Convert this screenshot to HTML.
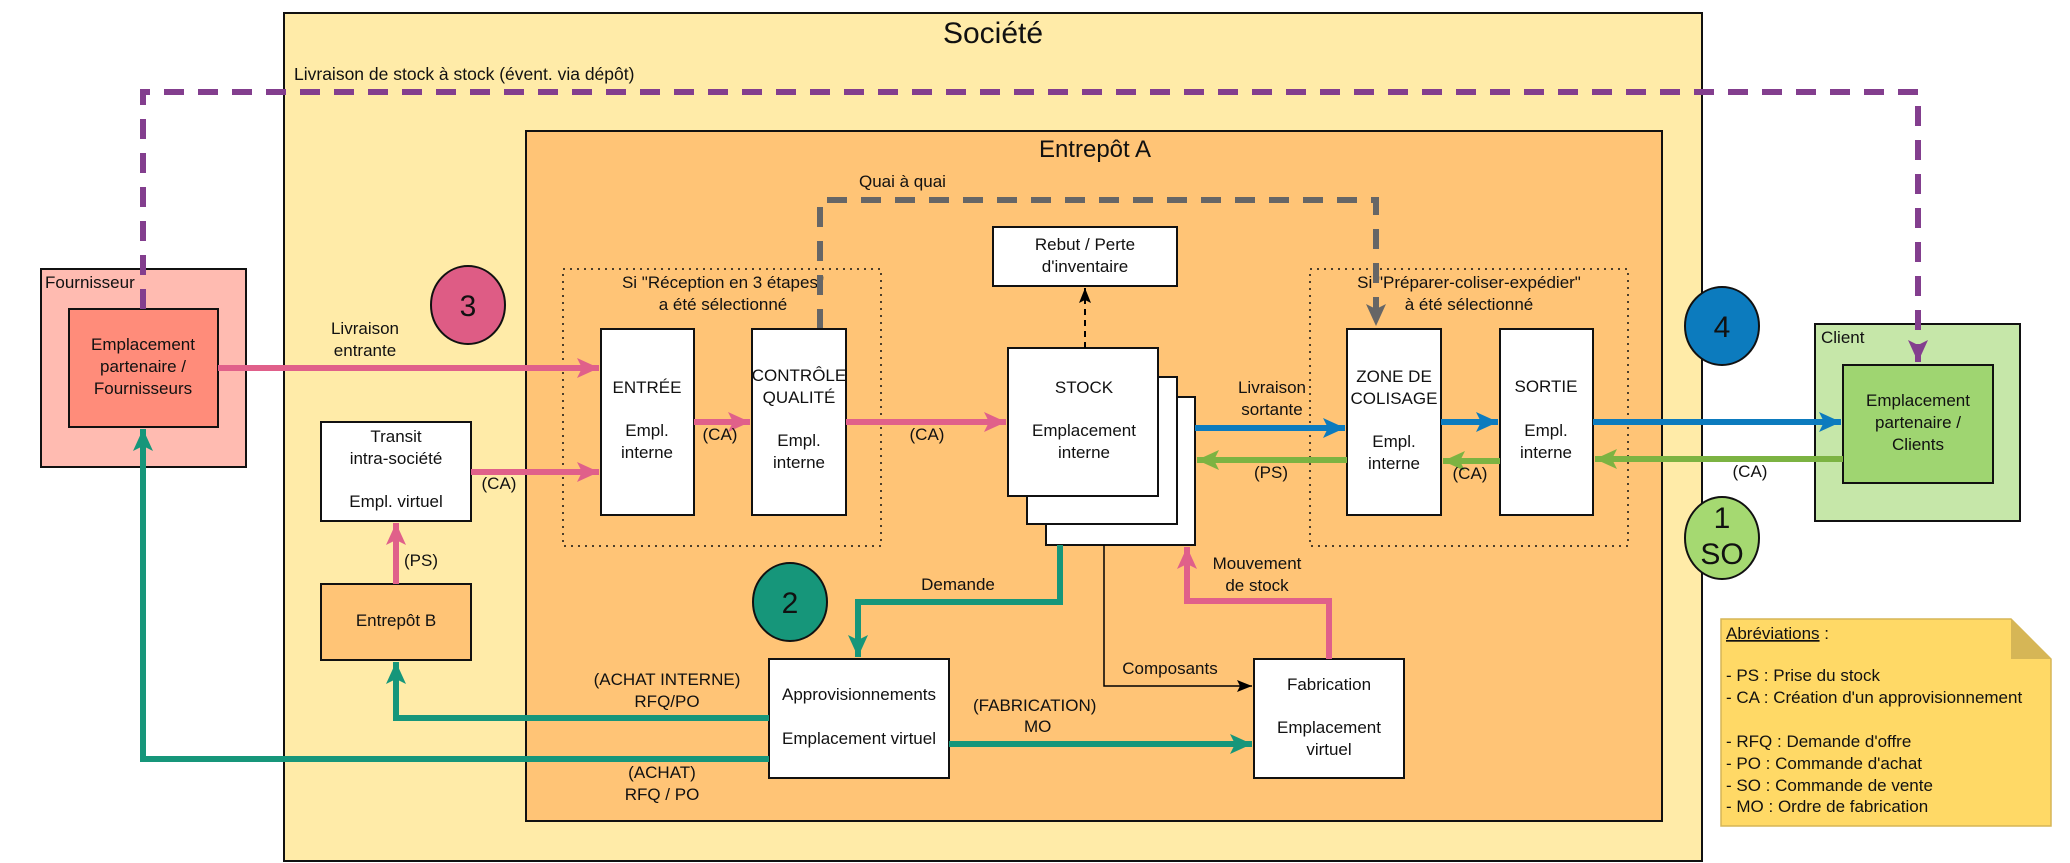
<!DOCTYPE html>
<html><head><meta charset="utf-8"><style>
html,body{margin:0;padding:0;background:#fff;}
svg{display:block;}
text{font-family:"Liberation Sans",sans-serif;fill:#111;}
</style></head><body>
<svg width="2070" height="863" viewBox="0 0 2070 863" xmlns="http://www.w3.org/2000/svg">
<defs>
<marker id="mp" markerUnits="userSpaceOnUse" markerWidth="24" markerHeight="20" refX="22" refY="10" orient="auto"><path d="M0,0 L22,10 L0,20 L5,10 Z" fill="#E0608A"/></marker>
<marker id="mt" markerUnits="userSpaceOnUse" markerWidth="24" markerHeight="20" refX="22" refY="10" orient="auto"><path d="M0,0 L22,10 L0,20 L5,10 Z" fill="#16967A"/></marker>
<marker id="mb" markerUnits="userSpaceOnUse" markerWidth="24" markerHeight="20" refX="22" refY="10" orient="auto"><path d="M0,0 L22,10 L0,20 L5,10 Z" fill="#0C7BBE"/></marker>
<marker id="mg" markerUnits="userSpaceOnUse" markerWidth="24" markerHeight="20" refX="22" refY="10" orient="auto"><path d="M0,0 L22,10 L0,20 L5,10 Z" fill="#7CB342"/></marker>
<marker id="mu" markerUnits="userSpaceOnUse" markerWidth="24" markerHeight="20" refX="22" refY="10" orient="auto"><path d="M0,0 L22,10 L0,20 L5,10 Z" fill="#833E8E"/></marker>
<marker id="my" markerUnits="userSpaceOnUse" markerWidth="24" markerHeight="20" refX="22" refY="10" orient="auto"><path d="M0,0 L22,10 L0,20 L5,10 Z" fill="#666"/></marker>
<marker id="mk" markerUnits="userSpaceOnUse" markerWidth="16" markerHeight="12" refX="15" refY="6" orient="auto"><path d="M0,0 L15,6 L0,12 L3,6 Z" fill="#000"/></marker>
</defs>

<rect x="284" y="13" width="1418" height="848" fill="#FFEBA8" stroke="#111" stroke-width="2"/>
<text x="993" y="43" font-size="30" text-anchor="middle">Société</text>
<text x="294" y="80" font-size="17.5">Livraison de stock à stock (évent. via dépôt)</text>

<rect x="526" y="131" width="1136" height="690" fill="#FFC476" stroke="#111" stroke-width="2"/>
<text x="1095" y="157" font-size="24" text-anchor="middle">Entrepôt A</text>

<rect x="41" y="269" width="205" height="198" fill="#FFBBB1" stroke="#111" stroke-width="2"/>
<text x="45" y="288" font-size="17">Fournisseur</text>
<rect x="69" y="309" width="149" height="118" fill="#FF8C7A" stroke="#111" stroke-width="2"/>
<text font-size="17" text-anchor="middle"><tspan x="143" y="350">Emplacement</tspan><tspan x="143" y="372">partenaire /</tspan><tspan x="143" y="394">Fournisseurs</tspan></text>

<rect x="1815" y="324" width="205" height="197" fill="#C6E7A9" stroke="#111" stroke-width="2"/>
<text x="1821" y="343" font-size="17">Client</text>
<rect x="1843" y="365" width="150" height="118" fill="#9FD571" stroke="#111" stroke-width="2"/>
<text font-size="17" text-anchor="middle"><tspan x="1918" y="406">Emplacement</tspan><tspan x="1918" y="428">partenaire /</tspan><tspan x="1918" y="450">Clients</tspan></text>

<rect x="563" y="269" width="318" height="277" fill="none" stroke="#111" stroke-width="1.5" stroke-dasharray="2,5"/>
<text font-size="17" text-anchor="middle"><tspan x="723" y="288">Si "Réception en 3 étapes"</tspan><tspan x="723" y="310">a été sélectionné</tspan></text>
<rect x="1310" y="269" width="318" height="277" fill="none" stroke="#111" stroke-width="1.5" stroke-dasharray="2,5"/>
<text font-size="17" text-anchor="middle"><tspan x="1469" y="288">Si "Préparer-coliser-expédier"</tspan><tspan x="1469" y="310">à été sélectionné</tspan></text>

<polyline points="820,329 820,200 1376,200 1376,326" fill="none" stroke="#666" stroke-width="6" stroke-dasharray="20,14" marker-end="url(#my)"/>
<text x="859" y="187" font-size="17">Quai à quai</text>

<polyline points="143,309 143,92 1918,92 1918,362" fill="none" stroke="#833E8E" stroke-width="6" stroke-dasharray="20,14" marker-end="url(#mu)"/>

<rect x="601" y="329" width="93" height="186" fill="#fff" stroke="#111" stroke-width="2"/>
<text font-size="17" text-anchor="middle"><tspan x="647" y="393">ENTRÉE</tspan><tspan x="647" y="436">Empl.</tspan><tspan x="647" y="458">interne</tspan></text>
<rect x="752" y="329" width="94" height="186" fill="#fff" stroke="#111" stroke-width="2"/>
<text font-size="17" text-anchor="middle"><tspan x="799" y="381">CONTRÔLE</tspan><tspan x="799" y="403">QUALITÉ</tspan><tspan x="799" y="446">Empl.</tspan><tspan x="799" y="468">interne</tspan></text>

<rect x="1046" y="397" width="149" height="148" fill="#fff" stroke="#111" stroke-width="2"/>
<rect x="1027" y="377" width="150" height="147" fill="#fff" stroke="#111" stroke-width="2"/>
<rect x="1008" y="348" width="150" height="148" fill="#fff" stroke="#111" stroke-width="2"/>
<text font-size="17" text-anchor="middle"><tspan x="1084" y="393">STOCK</tspan><tspan x="1084" y="436">Emplacement</tspan><tspan x="1084" y="458">interne</tspan></text>

<rect x="993" y="227" width="184" height="59" fill="#fff" stroke="#111" stroke-width="2"/>
<text font-size="17" text-anchor="middle"><tspan x="1085" y="250">Rebut / Perte</tspan><tspan x="1085" y="272">d'inventaire</tspan></text>
<line x1="1085" y1="348" x2="1085" y2="288" stroke="#000" stroke-width="2" stroke-dasharray="6,5" marker-end="url(#mk)"/>

<rect x="1347" y="329" width="94" height="186" fill="#fff" stroke="#111" stroke-width="2"/>
<text font-size="17" text-anchor="middle"><tspan x="1394" y="382">ZONE DE</tspan><tspan x="1394" y="404">COLISAGE</tspan><tspan x="1394" y="447">Empl.</tspan><tspan x="1394" y="469">interne</tspan></text>
<rect x="1500" y="329" width="93" height="186" fill="#fff" stroke="#111" stroke-width="2"/>
<text font-size="17" text-anchor="middle"><tspan x="1546" y="392">SORTIE</tspan><tspan x="1546" y="436">Empl.</tspan><tspan x="1546" y="458">interne</tspan></text>

<rect x="321" y="422" width="150" height="99" fill="#fff" stroke="#111" stroke-width="2"/>
<text font-size="17" text-anchor="middle"><tspan x="396" y="442">Transit</tspan><tspan x="396" y="464">intra-société</tspan><tspan x="396" y="507">Empl. virtuel</tspan></text>
<rect x="321" y="584" width="150" height="76" fill="#FFC476" stroke="#111" stroke-width="2"/>
<text x="396" y="626" font-size="17" text-anchor="middle">Entrepôt B</text>

<rect x="769" y="659" width="180" height="119" fill="#fff" stroke="#111" stroke-width="2"/>
<text font-size="17" text-anchor="middle"><tspan x="859" y="700">Approvisionnements</tspan><tspan x="859" y="744">Emplacement virtuel</tspan></text>
<rect x="1254" y="659" width="150" height="119" fill="#fff" stroke="#111" stroke-width="2"/>
<text font-size="17" text-anchor="middle"><tspan x="1329" y="690">Fabrication</tspan><tspan x="1329" y="733">Emplacement</tspan><tspan x="1329" y="755">virtuel</tspan></text>

<line x1="218" y1="368" x2="599" y2="368" stroke="#E0608A" stroke-width="6" marker-end="url(#mp)"/>
<text font-size="17" text-anchor="middle"><tspan x="365" y="334">Livraison</tspan><tspan x="365" y="356">entrante</tspan></text>
<line x1="471" y1="472" x2="599" y2="472" stroke="#E0608A" stroke-width="6" marker-end="url(#mp)"/>
<text x="499" y="489" font-size="17" text-anchor="middle">(CA)</text>
<line x1="694" y1="422" x2="750" y2="422" stroke="#E0608A" stroke-width="6" marker-end="url(#mp)"/>
<text x="720" y="440" font-size="17" text-anchor="middle">(CA)</text>
<line x1="846" y1="422" x2="1006" y2="422" stroke="#E0608A" stroke-width="6" marker-end="url(#mp)"/>
<text x="927" y="440" font-size="17" text-anchor="middle">(CA)</text>
<line x1="396" y1="584" x2="396" y2="523" stroke="#E0608A" stroke-width="6" marker-end="url(#mp)"/>
<text x="421" y="566" font-size="17" text-anchor="middle">(PS)</text>
<polyline points="1329,659 1329,601 1187,601 1187,547" fill="none" stroke="#E0608A" stroke-width="6" marker-end="url(#mp)"/>
<text font-size="17" text-anchor="middle"><tspan x="1257" y="569">Mouvement</tspan><tspan x="1257" y="591">de stock</tspan></text>

<line x1="1195" y1="428" x2="1345" y2="428" stroke="#0C7BBE" stroke-width="6" marker-end="url(#mb)"/>
<text font-size="17" text-anchor="middle"><tspan x="1272" y="393">Livraison</tspan><tspan x="1272" y="415">sortante</tspan></text>
<line x1="1441" y1="422" x2="1498" y2="422" stroke="#0C7BBE" stroke-width="6" marker-end="url(#mb)"/>
<line x1="1593" y1="422" x2="1841" y2="422" stroke="#0C7BBE" stroke-width="6" marker-end="url(#mb)"/>

<line x1="1347" y1="460" x2="1197" y2="460" stroke="#7CB342" stroke-width="6" marker-end="url(#mg)"/>
<text x="1271" y="478" font-size="17" text-anchor="middle">(PS)</text>
<line x1="1500" y1="461" x2="1443" y2="461" stroke="#7CB342" stroke-width="6" marker-end="url(#mg)"/>
<text x="1470" y="479" font-size="17" text-anchor="middle">(CA)</text>
<line x1="1843" y1="459" x2="1595" y2="459" stroke="#7CB342" stroke-width="6" marker-end="url(#mg)"/>
<text x="1750" y="477" font-size="17" text-anchor="middle">(CA)</text>

<polyline points="1060,545 1060,602 858,602 858,657" fill="none" stroke="#16967A" stroke-width="6" marker-end="url(#mt)"/>
<text x="958" y="590" font-size="17" text-anchor="middle">Demande</text>
<polyline points="769,718 396,718 396,662" fill="none" stroke="#16967A" stroke-width="6" marker-end="url(#mt)"/>
<text font-size="17" text-anchor="middle"><tspan x="667" y="685">(ACHAT INTERNE)</tspan><tspan x="667" y="707">RFQ/PO</tspan></text>
<polyline points="769,759 143,759 143,429" fill="none" stroke="#16967A" stroke-width="6" marker-end="url(#mt)"/>
<text font-size="17" text-anchor="middle"><tspan x="662" y="778">(ACHAT)</tspan><tspan x="662" y="800">RFQ / PO</tspan></text>
<line x1="949" y1="744" x2="1252" y2="744" stroke="#16967A" stroke-width="6" marker-end="url(#mt)"/>
<text font-size="17"><tspan x="973" y="711">(FABRICATION)</tspan><tspan x="1024" y="732">MO</tspan></text>

<polyline points="1104,545 1104,686 1252,686" fill="none" stroke="#000" stroke-width="1.5" marker-end="url(#mk)"/>
<text x="1170" y="674" font-size="17" text-anchor="middle">Composants</text>

<ellipse cx="468" cy="305" rx="37" ry="39" fill="#DE5C85" stroke="#111" stroke-width="2"/>
<text x="468" y="316" font-size="30" text-anchor="middle">3</text>
<ellipse cx="790" cy="602" rx="37" ry="39" fill="#16967A" stroke="#111" stroke-width="2"/>
<text x="790" y="613" font-size="30" text-anchor="middle">2</text>
<ellipse cx="1722" cy="326" rx="37" ry="39" fill="#0C7BBE" stroke="#111" stroke-width="2"/>
<text x="1722" y="337" font-size="30" text-anchor="middle">4</text>
<ellipse cx="1722" cy="538" rx="37" ry="41" fill="#A5D971" stroke="#111" stroke-width="2"/>
<text font-size="30" text-anchor="middle"><tspan x="1722" y="528">1</tspan><tspan x="1722" y="564">SO</tspan></text>

<path d="M1721,619 L2011,619 L2051,659 L2051,826 L1721,826 Z" fill="#FFD966" stroke="#D6B656" stroke-width="1.5"/>
<path d="M2011,619 L2011,659 L2051,659 Z" fill="#D6B656"/>
<text font-size="17"><tspan x="1726" y="639" text-decoration="underline">Abréviations</tspan><tspan> :</tspan></text>
<text font-size="17"><tspan x="1726" y="681">- PS : Prise du stock</tspan><tspan x="1726" y="703">- CA : Création d'un approvisionnement</tspan><tspan x="1726" y="747">- RFQ : Demande d'offre</tspan><tspan x="1726" y="769">- PO : Commande d'achat</tspan><tspan x="1726" y="791">- SO : Commande de vente</tspan><tspan x="1726" y="812">- MO : Ordre de fabrication</tspan></text>
</svg>
</body></html>
